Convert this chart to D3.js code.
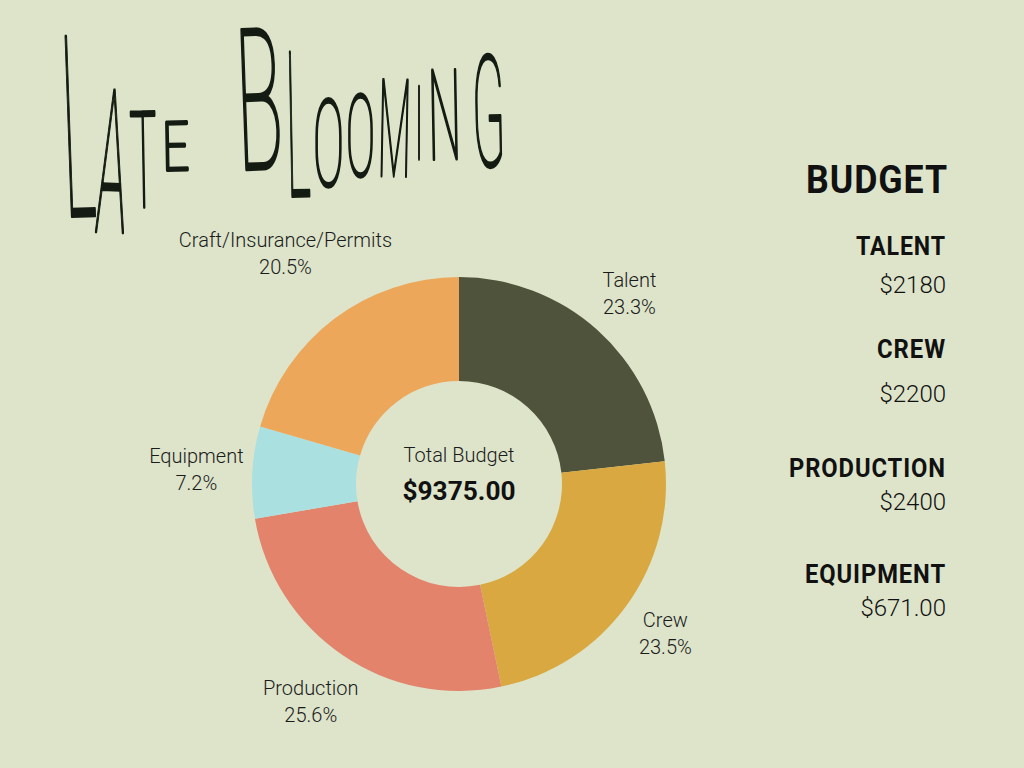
<!DOCTYPE html>
<html>
<head>
<meta charset="utf-8">
<script src="https://cdn.jsdelivr.net/npm/d3@7"></script>
<style>
  html, body { margin: 0; padding: 0; background: #dde4ca; }
  svg { display: block; }
</style>
</head>
<body>
<svg id="chart" width="1024" height="768"></svg>
<script>
// ---- data ----
const categories = ["Talent", "Crew", "Production", "Equipment", "Craft/Insurance/Permits"];
const amounts = [2180, 2200, 2400, 671, 1924];
const colors = ["#4f533b", "#d9a840", "#e3836b", "#abe0e1", "#eda75b"];
const totalLabel = "Total Budget";
const totalValue = "$9375.00";
const budgetHeads = ["TALENT", "CREW", "PRODUCTION", "EQUIPMENT"];
const budgetValues = ["$2180", "$2200", "$2400", "$671.00"];
const titleText = "LATE BLOOMING";

// ---- layout ----
const W = 1024, H = 768;
const cx = 459, cy = 484, rOuter = 207, rInner = 103;
const svg = d3.select("#chart");
svg.append("rect").attr("width", W).attr("height", H).attr("fill", "#dde4ca");

// ---- title (hand-lettered look, each letter fitted to a box: x, y, w, h, rotation) ----
const titleBoxes = [
  [62, 36, 32, 180, -2], [97, 90, 30, 142, 2], [130, 112, 27, 95, -1], [162, 122, 27, 48, -1],
  null,
  [236, 29, 46, 140, -2], [286, 52, 24, 144, -1], [313, 100, 31, 86, 0], [346, 96, 29, 80, 0],
  [378, 80, 33, 96, 1], [415, 86, 8, 73, 0], [428, 70, 33, 89, -1], [472, 56, 33, 110, -1]
];
const tg = svg.append("g").attr("class", "title");
titleText.split("").forEach((ch, i) => {
  const b = titleBoxes[i];
  if (!b || ch === " ") return;
  const fs = b[3] / 0.711;
  const t = tg.append("text")
    .attr("font-family", "Roboto, sans-serif")
    .attr("font-weight", 100)
    .attr("font-size", fs)
    .attr("fill", "#141b12")
    .attr("stroke", "#141b12")
    .attr("stroke-width", 3.5)
    .attr("stroke-linejoin", "round")
    .attr("x", 0).attr("y", 0)
    .attr("textLength", b[2])
    .attr("lengthAdjust", "spacingAndGlyphs")
    .text(ch);
  const bb = t.node().getBBox();
  t.attr("transform",
    `translate(${b[0] + b[2] / 2},${b[1] + b[3] / 2}) rotate(${b[4]}) translate(${-(bb.x + bb.width / 2)},${b[3] / 2})`);
});

// ---- donut ----
const pie = d3.pie().sort(null).value(d => d)(amounts);
const arc = d3.arc().innerRadius(rInner).outerRadius(rOuter);
const g = svg.append("g").attr("transform", `translate(${cx},${cy})`);
g.selectAll("path.slice").data(pie).join("path")
  .attr("class", "slice")
  .attr("d", arc)
  .attr("fill", (d, i) => colors[i]);

const total = d3.sum(amounts);
const pct = d3.format(".1f");
const labelFont = "Roboto, sans-serif";
const lab = g.selectAll("g.lab").data(pie).join("g").attr("class", "lab");
lab.each(function (d, i) {
  const el = d3.select(this);
  const t = el.append("text")
    .attr("font-family", labelFont).attr("font-weight", 300)
    .attr("font-size", 20).attr("fill", "#1b1b1b").attr("text-anchor", "middle");
  t.append("tspan").attr("x", 0).attr("y", 0).text(categories[i]);
  t.append("tspan").attr("x", 0).attr("y", 27).text(pct(d.value / total * 100) + "%");
  const bb = t.node().getBBox();
  const a = (d.startAngle + d.endAngle) / 2;
  const s = Math.sin(a), c = -Math.cos(a);
  const dist = 229 + 0.7 * (bb.width / 2) * Math.abs(s) + 0.73 * (bb.height / 2) * Math.abs(c);
  const px = dist * s, py = dist * c;
  const ox = bb.x + bb.width / 2, oy = bb.y + bb.height / 2;
  el.attr("transform", `translate(${px - ox},${py - oy})`);
});

// centre text
g.append("text").attr("text-anchor", "middle").attr("y", -22)
  .attr("font-family", labelFont).attr("font-weight", 300).attr("font-size", 20)
  .attr("fill", "#1b1b1b").text(totalLabel);
g.append("text").attr("text-anchor", "middle").attr("y", 16)
  .attr("font-family", labelFont).attr("font-weight", 700).attr("font-size", 25)
  .attr("fill", "#111").attr("textLength", 113).attr("lengthAdjust", "spacingAndGlyphs")
  .text(totalValue);

// ---- right-hand budget list ----
const rx = 946;
function fitText(sel, txt, x, y, size, weight, width) {
  const t = sel.append("text").attr("text-anchor", "end").attr("x", x).attr("y", y)
    .attr("font-family", "Roboto, sans-serif").attr("font-weight", weight)
    .attr("font-size", size).attr("fill", "#111").text(txt);
  if (width) t.attr("textLength", width).attr("lengthAdjust", "spacingAndGlyphs");
  return t;
}
const panel = svg.append("g");
fitText(panel, "BUDGET", 948, 193, 39, 700, 142).attr("letter-spacing", 1);
const headY = [255, 358, 477, 583];
const headW = [90, 69, 157, 141];
const valY = [293, 402, 510, 616];
budgetHeads.forEach((h, i) => {
  fitText(panel, h, rx, headY[i], 26, 700, headW[i]).attr("letter-spacing", 1);
  fitText(panel, budgetValues[i], rx, valY[i], 24, 300);
});
</script>
</body>
</html>
